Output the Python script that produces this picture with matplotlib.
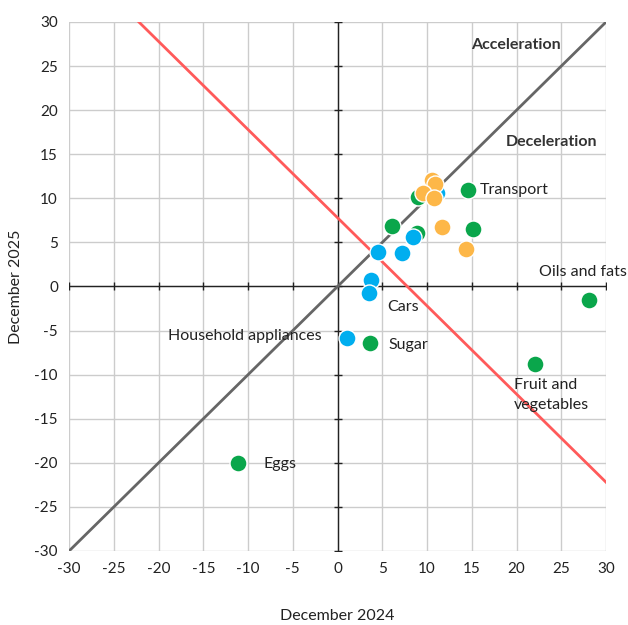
import matplotlib.pyplot as plt
import numpy as np

plt.rcParams["font.family"] = ["Lato", "DejaVu Sans"]
plt.rcParams["axes.unicode_minus"] = False

# December 2024 (x) vs December 2025 (y), by group
green_x = [14.6, 15.1, 6.1, 8.9, 9.0, 28.1, 22.1, 3.6, -11.1]
green_y = [11.0, 6.5, 6.9, 6.1, 10.1, -1.5, -8.8, -6.4, -20.0]
blue_x = [11.1, 4.5, 7.2, 8.4, 3.7, 3.5, 1.1]
blue_y = [10.6, 3.9, 3.8, 5.6, 0.7, -0.7, -5.8]
orange_x = [10.6, 10.9, 9.6, 10.8, 11.7, 14.4]
orange_y = [12.1, 11.6, 10.6, 10.0, 6.7, 4.3]

labels = ["Transport", "Oils and fats", "Fruit and\nvegetables", "Sugar", "Cars",
          "Household appliances", "Eggs"]
label_x = [15.9, 27.4, 19.7, 5.7, 5.6, -1.8, -8.3]
label_y = [11.0, 1.6, -12.3, -6.6, -2.3, -5.6, -20.1]
label_ha = ["left", "center", "left", "left", "left", "right", "left"]

ticks = np.arange(-30, 31, 5)
fs = 11.5

fig = plt.figure(figsize=(6.28, 6.25), dpi=100)
ax = fig.add_axes([0.110, 0.1184, 0.855, 0.8464])
ax.set_xlim(-30, 30)
ax.set_ylim(-30, 30)
ax.set_xticks(ticks)
ax.set_yticks(ticks)
ax.grid(True, color="#cccccc", linewidth=1)
ax.set_axisbelow(True)
for s in ax.spines.values():
    s.set_visible(False)
ax.tick_params(length=0, labelsize=11, colors="#222222", pad=8)

ax.axhline(0, color="#222222", linewidth=1, zorder=1)
ax.axvline(0, color="#222222", linewidth=1, zorder=1)
ax.plot(ticks, np.zeros_like(ticks), linestyle="none", marker="|", color="#222222",
        markersize=6, zorder=1)
ax.plot(np.zeros_like(ticks), ticks, linestyle="none", marker="_", color="#222222",
        markersize=6, zorder=1)

# 45 degree line and the red deceleration boundary
xs = np.array([-30, 30])
ax.plot(xs, xs, color="#666666", linewidth=2, zorder=2)
ax.plot(xs, 7.8 - xs, color="#ff5a5a", linewidth=2, zorder=2)

kw = dict(s=150, edgecolors="white", linewidths=1, zorder=3)
ax.scatter(green_x, green_y, color="#0aa64b", **kw)
ax.scatter(blue_x, blue_y, color="#00aeef", **kw)
ax.scatter(orange_x, orange_y, color="#fdb748", **kw)

for t, x, y, ha in zip(labels, label_x, label_y, label_ha):
    ax.text(x, y, t, ha=ha, va="center", fontsize=fs, color="#222222",
            linespacing=1.5, zorder=4)

ax.text(19.9, 27.4, "Acceleration", ha="center", va="center", fontsize=fs,
        fontweight="bold", color="#333333")
ax.text(23.9, 16.4, "Deceleration", ha="center", va="center", fontsize=fs,
        fontweight="bold", color="#333333")

ax.set_xlabel("December 2024", fontsize=fs, color="#222222", labelpad=24)
ax.set_ylabel("December 2025", fontsize=fs, color="#222222", labelpad=8)

fig.savefig("out.png", dpi=100)
